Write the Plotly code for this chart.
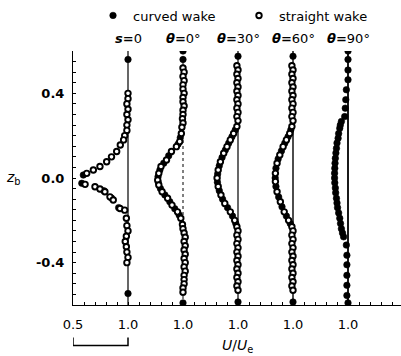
import plotly.graph_objects as go

# ---------------- data (U/Ue vs z_b) ----------------
offsets = [0.0, 0.5, 1.0, 1.5, 2.0]
profile_labels = ["<b><i>s</i>=</b>0", "<b><i>θ</i>=</b>0°", "<b><i>θ</i>=</b>30°",
                  "<b><i>θ</i>=</b>60°", "<b><i>θ</i>=</b>90°"]
x_tick_vals = [0.5, 1.0, 1.5, 2.0, 2.5, 3.0]
x_tick_text = ["0.5", "1.0", "1.0", "1.0", "1.0", "1.0"]
y_tick_vals = [-0.4, 0.0, 0.4]
y_tick_text = ["-0.4", "0.0", "0.4"]
scale_bar = [0.5, 1.0]

# s = 0
s0_str_z = [0.40, 0.375, 0.35, 0.325, 0.30, 0.275, 0.25, 0.225, 0.20, 0.18, 0.156, 0.125, 0.10, 0.077,
            0.054, 0.038, 0.022, -0.030, -0.041, -0.052, -0.065, -0.089, -0.104, -0.144, -0.152, -0.19,
            -0.225, -0.25, -0.275, -0.30, -0.325, -0.35, -0.375, -0.40]
s0_str_u = [1.00, 1.00, 0.99, 1.00, 0.99, 1.00, 0.99, 0.99, 0.97, 0.96, 0.93, 0.897, 0.85, 0.806,
            0.745, 0.685, 0.625, 0.61, 0.70, 0.745, 0.79, 0.836, 0.866, 0.927, 0.97, 0.985,
            0.99, 1.00, 0.985, 0.975, 0.985, 0.99, 1.00, 0.99]
s0_cur_z = [0.56, 0.014, -0.025, -0.06, -0.095, -0.14, -0.546]
s0_cur_u = [1.00, 0.594, 0.58, 0.78, 0.85, 0.915, 1.00]

# theta = 0
t0_str_z = [0.52, 0.50, 0.48, 0.46, 0.44, 0.42, 0.40, 0.38, 0.36, 0.34, 0.32, 0.30, 0.28, 0.26, 0.24,
            0.21, 0.172, 0.148, 0.125, 0.085, 0.054, 0.022, -0.01, -0.033, -0.065, -0.096, -0.128,
            -0.16, -0.19, -0.22, -0.24, -0.26, -0.28, -0.30, -0.32, -0.34, -0.36, -0.38, -0.40,
            -0.42, -0.44, -0.46, -0.48, -0.50, -0.52, -0.54]
t0_str_u = [1.00, 1.01, 1.00, 1.01, 1.00, 1.00, 1.01, 1.00, 1.00, 1.01, 1.00, 1.00, 0.995, 1.00, 0.99,
            0.985, 0.97, 0.94, 0.895, 0.85, 0.80, 0.78, 0.77, 0.78, 0.81, 0.86, 0.90,
            0.95, 0.98, 0.995, 1.00, 1.01, 1.02, 1.01, 1.02, 1.01, 1.02, 1.01, 1.02,
            1.01, 1.02, 1.01, 1.01, 1.01, 1.00, 1.00]
t0_cur_z = [0.60, 0.56, 0.19, 0.16, 0.105, 0.07, 0.038, 0.006, -0.02, -0.05, -0.08, -0.112,
            -0.145, -0.175, -0.59]
t0_cur_u = [1.00, 1.00, 0.975, 0.955, 0.87, 0.825, 0.79, 0.773, 0.775, 0.795, 0.835, 0.88,
            0.925, 0.965, 1.00]

# theta = 30
t30_str_z = [0.53, 0.51, 0.49, 0.47, 0.45, 0.43, 0.41, 0.39, 0.37, 0.35, 0.33, 0.31, 0.29, 0.27,
             0.243, 0.21, 0.18, 0.148, 0.117, 0.077, 0.038, 0.0, -0.04, -0.08, -0.12, -0.16, -0.20,
             -0.23, -0.25, -0.27, -0.29, -0.31, -0.33, -0.35, -0.37, -0.39, -0.41, -0.43, -0.45,
             -0.47, -0.49, -0.51, -0.53]
t30_str_u = [0.99, 1.00, 0.99, 1.00, 0.99, 1.00, 0.99, 1.00, 0.99, 1.00, 0.99, 1.00, 0.99, 1.00,
             0.99, 0.96, 0.93, 0.90, 0.87, 0.84, 0.82, 0.81, 0.82, 0.845, 0.88, 0.93, 0.97,
             0.99, 1.00, 0.99, 1.00, 0.99, 1.00, 0.99, 1.00, 0.99, 1.00, 0.99, 1.00,
             0.99, 1.00, 0.99, 1.00]
t30_cur_z = [0.575, 0.227, 0.195, 0.164, 0.132, 0.097, 0.058, 0.019, -0.02, -0.06, -0.10, -0.14,
             -0.18, -0.215, -0.586]
t30_cur_u = [1.00, 0.975, 0.945, 0.915, 0.885, 0.855, 0.83, 0.815, 0.813, 0.83, 0.86, 0.905,
             0.95, 0.98, 1.00]

# theta = 60
t60_str_z = [0.53, 0.51, 0.49, 0.47, 0.45, 0.43, 0.41, 0.39, 0.37, 0.35, 0.33, 0.31, 0.29, 0.27,
             0.243, 0.21, 0.18, 0.148, 0.109, 0.07, 0.022, -0.017, -0.065, -0.112, -0.16, -0.20,
             -0.23, -0.25, -0.27, -0.29, -0.31, -0.33, -0.35, -0.37, -0.39, -0.41, -0.43, -0.45,
             -0.47, -0.49, -0.51, -0.53]
t60_str_u = [0.99, 1.00, 0.99, 1.00, 0.99, 1.00, 0.99, 1.00, 0.99, 1.00, 0.99, 1.00, 0.99, 1.00,
             0.99, 0.97, 0.94, 0.91, 0.88, 0.855, 0.84, 0.84, 0.855, 0.885, 0.92, 0.96,
             0.99, 1.00, 0.99, 1.00, 0.99, 1.00, 0.99, 1.00, 0.99, 1.00, 0.99, 1.00,
             0.99, 1.00, 0.99, 1.00]
t60_cur_z = [0.575, 0.227, 0.195, 0.164, 0.128, 0.09, 0.046, 0.0, -0.04, -0.09, -0.136, -0.18,
             -0.215, -0.586]
t60_cur_u = [1.00, 0.98, 0.955, 0.925, 0.895, 0.865, 0.845, 0.838, 0.845, 0.87, 0.90, 0.94,
             0.975, 1.00]

# theta = 90 (curved wake only visible)
t90_cur_z = [0.60, 0.56, 0.51, 0.464, 0.417, 0.37, 0.33, 0.29, 0.267, 0.25, 0.235, 0.21, 0.188,
             0.165, 0.14, 0.118, 0.093, 0.07, 0.046, 0.023, 0.0, -0.023, -0.047, -0.07, -0.096,
             -0.118, -0.14, -0.165, -0.19, -0.215, -0.24, -0.26, -0.278, -0.317, -0.365, -0.41,
             -0.46, -0.507, -0.555, -0.59]
t90_cur_u = [1.00, 1.00, 1.00, 1.00, 0.985, 0.98, 0.975, 0.97, 0.94, 0.93, 0.925, 0.915, 0.91,
             0.90, 0.895, 0.89, 0.885, 0.882, 0.88, 0.878, 0.878, 0.88, 0.885, 0.888, 0.895,
             0.90, 0.905, 0.915, 0.925, 0.932, 0.94, 0.95, 0.96, 0.985, 0.99, 0.99,
             0.99, 0.99, 0.99, 1.00]

straight = [(s0_str_z, s0_str_u), (t0_str_z, t0_str_u), (t30_str_z, t30_str_u),
            (t60_str_z, t60_str_u), None]
curved = [(s0_cur_z, s0_cur_u), (t0_cur_z, t0_cur_u), (t30_cur_z, t30_cur_u),
          (t60_cur_z, t60_cur_u), (t90_cur_z, t90_cur_u)]
ref_line_styles = [dict(width=1.2, dash="solid"), dict(width=1, dash="dot"),
                   dict(width=1.2, dash="solid"), dict(width=1.4, dash="solid"),
                   dict(width=1.8, dash="solid")]

FONT = "DejaVu Sans"
fig = go.Figure()

# reference lines U/Ue = 1
for off, st in zip(offsets, ref_line_styles):
    fig.add_trace(go.Scatter(x=[1.0 + off, 1.0 + off], y=[-0.6, 0.6], mode="lines",
                             line=dict(color="black", **st), showlegend=False, hoverinfo="skip"))

# curved wake (filled)
for i, (off, c) in enumerate(zip(offsets, curved)):
    z, u = c
    fig.add_trace(go.Scatter(x=[v + off for v in u], y=z, mode="markers",
                             marker=dict(symbol="circle", size=6.5, color="black",
                                         line=dict(color="black", width=0.6)),
                             name="curved wake", showlegend=(i == 0), legend="legend"))

# straight wake (open)
first = True
for off, s in zip(offsets, straight):
    if s is None:
        continue
    z, u = s
    fig.add_trace(go.Scatter(x=[v + off for v in u], y=z, mode="markers",
                             marker=dict(symbol="circle", size=5.5, color="white",
                                         line=dict(color="black", width=1.9)),
                             name="straight wake", showlegend=first, legend="legend2"))
    first = False

PT = 304.6
PH = 253.2
def py(px):
    return (PT - px) / PH

annotations = []
for off, lab in zip(offsets, profile_labels):
    annotations.append(dict(x=1.0 + off, y=py(39), xref="x", yref="paper", text=lab,
                            showarrow=False, font=dict(family=FONT, size=13, color="black"),
                            xanchor="center", yanchor="middle"))
annotations.append(dict(x=0.5, y=py(345), xref="paper", yref="paper",
                        text="<i>U</i>/<i>U</i><sub>e</sub>", showarrow=False,
                        font=dict(family=FONT, size=14, color="black"),
                        xanchor="center", yanchor="middle"))
annotations.append(dict(x=(13 - 73) / 328, y=0.0, xref="paper", yref="y",
                        text="<i>z</i><sub>b</sub>", showarrow=False,
                        font=dict(family=FONT, size=14, color="black"),
                        xanchor="center", yanchor="middle"))

shapes = [dict(type="path", xref="x", yref="paper",
               path=f"M {scale_bar[0]},{py(337)} L {scale_bar[0]},{py(345)} "
                    f"L {scale_bar[1]},{py(345)} L {scale_bar[1]},{py(337)}",
               line=dict(color="black", width=1.5))]

fig.update_layout(
    width=401, height=356,
    margin=dict(l=73, r=0, t=51, b=51),
    plot_bgcolor="white", paper_bgcolor="white",
    font=dict(family=FONT, size=13, color="black"),
    annotations=annotations, shapes=shapes,
    legend=dict(x=(93 - 73) / 328, y=py(16), xanchor="left", yanchor="middle",
                orientation="h", bgcolor="rgba(0,0,0,0)", borderwidth=0,
                font=dict(family=FONT, size=13, color="black")),
    legend2=dict(x=(239 - 73) / 328, y=py(16), xanchor="left", yanchor="middle",
                 orientation="h", bgcolor="rgba(0,0,0,0)", borderwidth=0,
                 font=dict(family=FONT, size=13, color="black")),
)
fig.update_xaxes(range=[0.5, 0.5 + 328 / 110], showgrid=False, zeroline=False,
                 showline=True, linecolor="black", linewidth=1,
                 tickmode="array", tickvals=x_tick_vals, ticktext=x_tick_text,
                 ticks="inside", ticklen=3, tickcolor="black", ticklabelstandoff=7,
                 tickfont=dict(family=FONT, size=13, color="black"),
                 minor=dict(tickmode="linear", tick0=0.5, dtick=0.1, ticks="inside",
                            ticklen=3, tickcolor="black", showgrid=False))
fig.update_yaxes(range=[-0.6, 0.6], showgrid=False, zeroline=False,
                 showline=True, linecolor="black", linewidth=1,
                 tickmode="array", tickvals=y_tick_vals, ticktext=["<b>%s</b>" % t for t in y_tick_text],
                 ticks="inside", ticklen=3, tickcolor="black", ticklabelstandoff=5,
                 tickfont=dict(family=FONT, size=13, color="black"),
                 minor=dict(tickmode="linear", tick0=0.0, dtick=0.05, ticks="inside",
                            ticklen=3, tickcolor="black", showgrid=False))

fig.write_html("out.html")
